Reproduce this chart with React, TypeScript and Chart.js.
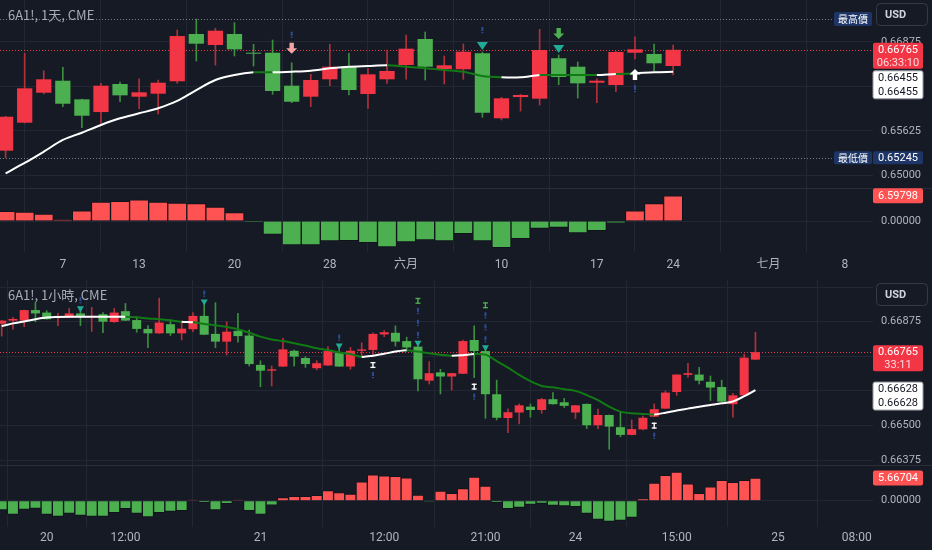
import { useEffect, useRef } from "react";
import { Chart, registerables } from "chart.js";

Chart.register(...registerables);

// ================= 1天 (daily) panel =================
const DAY_OPEN = [0.65345, 0.65739, 0.66161, 0.6633, 0.66068, 0.65889, 0.66284, 0.66105, 0.66147, 0.66322, 0.66988, 0.66833, 0.66988, 0.66724, 0.66724, 0.6626, 0.66105, 0.6635, 0.66537, 0.66143, 0.6635, 0.66551, 0.66917, 0.66495, 0.66491, 0.66716, 0.65801, 0.661, 0.66077, 0.66646, 0.66527, 0.66302, 0.66269, 0.66724, 0.66706, 0.66537];
const DAY_HIGH = [0.6583, 0.66716, 0.66471, 0.66519, 0.6607, 0.66293, 0.66312, 0.66358, 0.6634, 0.67044, 0.67199, 0.67068, 0.67147, 0.66843, 0.66903, 0.66583, 0.6642, 0.66843, 0.66716, 0.66505, 0.66762, 0.66973, 0.67016, 0.66678, 0.66847, 0.66734, 0.66096, 0.66139, 0.67054, 0.66692, 0.66593, 0.66358, 0.66744, 0.66949, 0.66847, 0.66833];
const DAY_LOW = [0.65245, 0.65735, 0.66143, 0.65964, 0.65668, 0.6573, 0.66034, 0.65936, 0.65861, 0.66293, 0.66607, 0.66551, 0.66678, 0.66537, 0.66139, 0.6602, 0.65964, 0.6626, 0.66129, 0.65941, 0.66293, 0.6635, 0.6634, 0.66284, 0.6635, 0.65815, 0.65777, 0.65903, 0.65988, 0.66274, 0.66087, 0.6602, 0.66175, 0.66636, 0.66471, 0.6641];
const DAY_CLOSE = [0.65823, 0.66223, 0.6635, 0.66006, 0.65837, 0.6626, 0.66124, 0.66167, 0.66302, 0.66959, 0.66851, 0.67034, 0.66772, 0.6671, 0.66185, 0.66034, 0.6634, 0.66527, 0.66199, 0.6642, 0.66467, 0.66781, 0.66527, 0.66547, 0.66738, 0.65879, 0.66082, 0.66129, 0.66762, 0.66382, 0.66293, 0.6633, 0.66734, 0.66772, 0.66575, 0.66765];
const DAY_MA = [0.65027, 0.65172, 0.65331, 0.65496, 0.65598, 0.65707, 0.65801, 0.65871, 0.65942, 0.66045, 0.66199, 0.6634, 0.6641, 0.66448, 0.66448, 0.66457, 0.66471, 0.66505, 0.66527, 0.66537, 0.66547, 0.66527, 0.66505, 0.66481, 0.66457, 0.66396, 0.66378, 0.66378, 0.6641, 0.6641, 0.6641, 0.6641, 0.66425, 0.66434, 0.66448, 0.66455];
const DAY_MA_DOWN_SEGMENTS = [13, 20, 21, 22, 23, 24, 25, 28, 29, 30, 32];
const DAY_OSC = [2.53, 2.35, 1.83, 0.34, 2.69, 4.96, 5.14, 5.56, 4.96, 4.7, 4.52, 3.66, 2.17, -0.26, -3.47, -6.27, -6.27, -5.22, -5.14, -5.67, -6.79, -5.48, -4.96, -5.22, -3.32, -5.22, -6.97, -4.62, -1.91, -1.64, -3.13, -2.53, -0.44, 2.69, 4.52, 6.59798];
const DAY_TICK_POS = [3, 7, 12, 17, 21, 26, 31, 35, 40, 44];
const DAY_TICK_LABELS = ["7", "13", "20", "28", "六月", "10", "17", "24", "七月", "8"];
const DAY_PRICE_GRID = [0.66875, 0.6625, 0.65625, 0.65];
const DAY_COUNTDOWN = "06:33:10";
const DAY_SIGNAL_IDX = [25, 29];
const DAY_PINK_ARROW_IDX = [15];
const DAY_GREEN_ARROW_IDX = [29];
const DAY_UP_ARROW_IDX = [33];
const DAY_BANG_ABOVE_IDX = [15, 25];
const DAY_BANG_BELOW_IDX = [33];

// ================= 1小時 (hourly) panel =================
const HOUR_OPEN = [0.66868, 0.66879, 0.66879, 0.66917, 0.66908, 0.66891, 0.6689, 0.66905, 0.66891, 0.66902, 0.66874, 0.66913, 0.66881, 0.66849, 0.66833, 0.66866, 0.66833, 0.66848, 0.66896, 0.66831, 0.66803, 0.66842, 0.66825, 0.66719, 0.66698, 0.66713, 0.6677, 0.66744, 0.66707, 0.66717, 0.66764, 0.66713, 0.6677, 0.66773, 0.66829, 0.66835, 0.66805, 0.66785, 0.66662, 0.66692, 0.66677, 0.66687, 0.66809, 0.66769, 0.66613, 0.66527, 0.66547, 0.66568, 0.66556, 0.66595, 0.66584, 0.66547, 0.66578, 0.66501, 0.66538, 0.66494, 0.66466, 0.66486, 0.66532, 0.66561, 0.66621, 0.66683, 0.66684, 0.66658, 0.66639, 0.66577, 0.66609, 0.66738];
const HOUR_HIGH = [0.66879, 0.66891, 0.66917, 0.66944, 0.66915, 0.66905, 0.66923, 0.6692, 0.66927, 0.66908, 0.66923, 0.66941, 0.66893, 0.66861, 0.6696, 0.66881, 0.66875, 0.66908, 0.66944, 0.66944, 0.66875, 0.66905, 0.66845, 0.66734, 0.66715, 0.66815, 0.66773, 0.66749, 0.66734, 0.66785, 0.66785, 0.66782, 0.66799, 0.66835, 0.66843, 0.6686, 0.66819, 0.66795, 0.66731, 0.66703, 0.66689, 0.66809, 0.6686, 0.66779, 0.66664, 0.6656, 0.66578, 0.66578, 0.66598, 0.66619, 0.66598, 0.66573, 0.66578, 0.66559, 0.66538, 0.66548, 0.6652, 0.66534, 0.66578, 0.66625, 0.66684, 0.66725, 0.6671, 0.66679, 0.66664, 0.66616, 0.66758, 0.66837];
const HOUR_LOW = [0.66823, 0.66848, 0.66857, 0.66875, 0.66884, 0.66861, 0.6689, 0.66861, 0.6684, 0.66835, 0.66872, 0.66879, 0.66837, 0.66781, 0.66833, 0.66825, 0.66809, 0.66839, 0.66828, 0.66781, 0.66755, 0.66801, 0.66715, 0.6664, 0.66643, 0.66713, 0.66715, 0.6671, 0.66701, 0.66717, 0.66713, 0.66703, 0.66746, 0.66751, 0.66821, 0.66787, 0.66769, 0.66625, 0.6665, 0.66614, 0.66628, 0.66687, 0.66673, 0.66526, 0.6652, 0.66474, 0.66506, 0.6653, 0.66544, 0.66577, 0.66565, 0.66525, 0.66489, 0.66489, 0.66414, 0.66459, 0.66466, 0.66484, 0.66532, 0.66561, 0.66609, 0.66674, 0.6665, 0.6659, 0.66586, 0.6653, 0.66609, 0.66738];
const HOUR_CLOSE = [0.66879, 0.66885, 0.66917, 0.66905, 0.66884, 0.66896, 0.66905, 0.66891, 0.66896, 0.66875, 0.66908, 0.66879, 0.66849, 0.66833, 0.66872, 0.66833, 0.6685, 0.66896, 0.66828, 0.66803, 0.66839, 0.66823, 0.66722, 0.66698, 0.66703, 0.66775, 0.66749, 0.66722, 0.66725, 0.66769, 0.66713, 0.6677, 0.66775, 0.66831, 0.66837, 0.66803, 0.66782, 0.66667, 0.66689, 0.66677, 0.66689, 0.66805, 0.66769, 0.66613, 0.66528, 0.66548, 0.66573, 0.66556, 0.66595, 0.66577, 0.66571, 0.66573, 0.66501, 0.66538, 0.66496, 0.66466, 0.66487, 0.66528, 0.66559, 0.66619, 0.66684, 0.66689, 0.66662, 0.66637, 0.66586, 0.66609, 0.66745, 0.66765];
const HOUR_MA = [0.66859, 0.66869, 0.66876, 0.66884, 0.6689, 0.66892, 0.66893, 0.66893, 0.66893, 0.66893, 0.66893, 0.66893, 0.66891, 0.66887, 0.66884, 0.6688, 0.66875, 0.66873, 0.66867, 0.66862, 0.66856, 0.66848, 0.66835, 0.66821, 0.66811, 0.66805, 0.66797, 0.66789, 0.66779, 0.66773, 0.66764, 0.66758, 0.66748, 0.66752, 0.66759, 0.66767, 0.66772, 0.66767, 0.66761, 0.66756, 0.66752, 0.66754, 0.66758, 0.66756, 0.66733, 0.66709, 0.66683, 0.6666, 0.66643, 0.66638, 0.66631, 0.66625, 0.6661, 0.66592, 0.66568, 0.6655, 0.66544, 0.66542, 0.6654, 0.66546, 0.66554, 0.66561, 0.66568, 0.66574, 0.6658, 0.66587, 0.66606, 0.66628];
const HOUR_MA_DOWN_SEGMENTS = [11, 12, 13, 14, 15, 17, 18, 19, 20, 21, 22, 23, 24, 25, 26, 27, 28, 29, 30, 31, 36, 37, 38, 39, 42, 43, 44, 45, 46, 47, 48, 49, 50, 51, 52, 53, 54, 55, 56, 57];
const HOUR_OSC = [-2.33, -3.42, -2.17, -1.92, -3.42, -3.92, -3.17, -3.67, -3.92, -3.92, -3.0, -2.0, -3.17, -4.08, -3.0, -2.67, -2.5, 0.17, -0.42, -2.33, -0.75, 0.17, -2.5, -3.42, -1.12, 0.8, 1.08, 1.08, 1.33, 2.5, 2.0, 1.67, 4.75, 6.5, 6.25, 6.08, 5.75, 1.42, -0.17, 2.42, 1.83, 3.0, 5.92, 3.67, -0.42, -2.0, -1.7, -0.92, -0.67, -1.17, -1.33, -1.5, -3.17, -4.67, -5.17, -4.92, -4.17, 0.42, 4.42, 6.33, 7.17, 4.25, 1.83, 3.5, 5.08, 4.58, 5.08, 5.66704];
const HOUR_TICK_POS = [4, 11, 23, 34, 43, 51, 60, 69, 76];
const HOUR_TICK_LABELS = ["20", "12:00", "21", "12:00", "21:00", "24", "15:00", "25", "08:00"];
const HOUR_PRICE_GRID = [0.67, 0.66875, 0.6675, 0.66625, 0.665, 0.66375];
const HOUR_COUNTDOWN = "33:11";
const HOUR_SIGNAL_IDX = [7, 18, 30, 37, 43];
const HOUR_STACKED_SIGNAL_IDX = [37, 43];
const HOUR_IBEAM_BELOW_IDX = [33, 42, 58];

// ================= style =================
const BG = "#161a25";
const GRID = "#232733";
const TEXT = "#b2b5be";
const UP = "#f23645";
const DN = "#4caf50";
const WICK_UP = "#b0303b";
const WICK_DN = "#3b8f3f";
const OSC_UP = "#ff5252";
const OSC_DN = "#4caf50";
const MA_W = "#ffffff";
const MA_G = "#127a14";
const TEAL = "#22ab94";
const NAVY = "#1e3568";
const BANG = "#2c4c92";
const AXIS_W = 59;
const SANS = 'Roboto, "Noto Sans CJK TC", sans-serif';
const CJK = '"Noto Sans CJK TC", "Noto Sans", sans-serif';

type Spec = {
  title: string;
  width: number;
  height: number;
  axisH: number;
  xPad: number;
  priceW: number;
  oscW: number;
  open: number[];
  high: number[];
  low: number[];
  close: number[];
  ma: number[];
  maDown: number[];
  osc: number[];
  tickPos: number[];
  tickLabels: string[];
  priceGrid: number[];
  labelMax: number;
  countdown: string;
  xMin: number;
  xMax: number;
  yMin: number;
  yMax: number;
  oMin: number;
  oMax: number;
  extremes: boolean;
  small: boolean;
  signals: number[];
  stacked: number[];
  pinkArrows: number[];
  greenArrows: number[];
  upArrows: number[];
  bangAbove: number[];
  bangBelow: number[];
  ibeams: number[];
};

const DAY_SPEC: Spec = {
  title: "6A1!, 1天, CME",
  width: 932,
  height: 280,
  axisH: 28,
  xPad: 6,
  priceW: 188,
  oscW: 64,
  open: DAY_OPEN,
  high: DAY_HIGH,
  low: DAY_LOW,
  close: DAY_CLOSE,
  ma: DAY_MA,
  maDown: DAY_MA_DOWN_SEGMENTS,
  osc: DAY_OSC,
  tickPos: DAY_TICK_POS,
  tickLabels: DAY_TICK_LABELS,
  priceGrid: DAY_PRICE_GRID,
  labelMax: 1,
  countdown: DAY_COUNTDOWN,
  xMin: -0.294,
  xMax: 45.48,
  yMin: 0.648198,
  yMax: 0.674662,
  oMin: -8.09,
  oMax: 8.62,
  extremes: true,
  small: false,
  signals: DAY_SIGNAL_IDX,
  stacked: [],
  pinkArrows: DAY_PINK_ARROW_IDX,
  greenArrows: DAY_GREEN_ARROW_IDX,
  upArrows: DAY_UP_ARROW_IDX,
  bangAbove: DAY_BANG_ABOVE_IDX,
  bangBelow: DAY_BANG_BELOW_IDX,
  ibeams: [],
};

const HOUR_SPEC: Spec = {
  title: "6A1!, 1小時, CME",
  width: 932,
  height: 270,
  axisH: 23,
  xPad: 4,
  priceW: 185,
  oscW: 62,
  open: HOUR_OPEN,
  high: HOUR_HIGH,
  low: HOUR_LOW,
  close: HOUR_CLOSE,
  ma: HOUR_MA,
  maDown: HOUR_MA_DOWN_SEGMENTS,
  osc: HOUR_OSC,
  tickPos: HOUR_TICK_POS,
  tickLabels: HOUR_TICK_LABELS,
  priceGrid: HOUR_PRICE_GRID,
  labelMax: 0.6695,
  countdown: HOUR_COUNTDOWN,
  xMin: -0.151,
  xMax: 77.45,
  yMin: 0.663573,
  yMax: 0.670257,
  oMin: -6.58,
  oMax: 8.93,
  extremes: false,
  small: true,
  signals: HOUR_SIGNAL_IDX,
  stacked: HOUR_STACKED_SIGNAL_IDX,
  pinkArrows: [],
  greenArrows: [],
  upArrows: [],
  bangAbove: HOUR_SIGNAL_IDX,
  bangBelow: HOUR_IBEAM_BELOW_IDX,
  ibeams: HOUR_IBEAM_BELOW_IDX,
};

function rr(ctx: CanvasRenderingContext2D, x: number, y: number, w: number, h: number, r: number) {
  ctx.beginPath();
  ctx.moveTo(x + r, y);
  ctx.lineTo(x + w - r, y);
  ctx.quadraticCurveTo(x + w, y, x + w, y + r);
  ctx.lineTo(x + w, y + h - r);
  ctx.quadraticCurveTo(x + w, y + h, x + w - r, y + h);
  ctx.lineTo(x + r, y + h);
  ctx.quadraticCurveTo(x, y + h, x, y + h - r);
  ctx.lineTo(x, y + r);
  ctx.quadraticCurveTo(x, y, x + r, y);
  ctx.closePath();
}

function triDown(ctx: CanvasRenderingContext2D, x: number, tip: number, w: number, h: number, c: string) {
  ctx.beginPath();
  ctx.moveTo(x - w / 2, tip - h);
  ctx.lineTo(x + w / 2, tip - h);
  ctx.lineTo(x, tip);
  ctx.closePath();
  ctx.fillStyle = c;
  ctx.fill();
}

function arrow(ctx: CanvasRenderingContext2D, x: number, tip: number, dir: number, w: number, h: number, c: string) {
  const head = h * 0.5;
  ctx.beginPath();
  ctx.moveTo(x, tip);
  ctx.lineTo(x - w / 2, tip - dir * head);
  ctx.lineTo(x - w * 0.2, tip - dir * head);
  ctx.lineTo(x - w * 0.2, tip - dir * h);
  ctx.lineTo(x + w * 0.2, tip - dir * h);
  ctx.lineTo(x + w * 0.2, tip - dir * head);
  ctx.lineTo(x + w / 2, tip - dir * head);
  ctx.closePath();
  ctx.fillStyle = c;
  ctx.fill();
}

function bang(ctx: CanvasRenderingContext2D, x: number, top: number, h: number) {
  ctx.fillStyle = BANG;
  ctx.fillRect(x - 1, top, 2, h - 2);
  ctx.fillRect(x - 1, top + h - 1, 2, 1.2);
}

function ibeam(ctx: CanvasRenderingContext2D, x: number, top: number, h: number, c: string) {
  ctx.fillStyle = c;
  ctx.fillRect(x - 2.5, top, 5, 1.3);
  ctx.fillRect(x - 0.7, top, 1.4, h);
  ctx.fillRect(x - 2.5, top + h - 1.3, 5, 1.3);
}

function tag(
  ctx: CanvasRenderingContext2D,
  x: number,
  top: number,
  w: number,
  h: number,
  bg: string,
  lines: string[],
  colors: string[],
  font: string,
  border?: string
) {
  rr(ctx, x, top, w, h, 2);
  ctx.fillStyle = bg;
  ctx.fill();
  if (border) {
    ctx.strokeStyle = border;
    ctx.lineWidth = 1;
    ctx.stroke();
  }
  ctx.font = font;
  ctx.textAlign = "center";
  ctx.textBaseline = "middle";
  const step = h / lines.length;
  lines.forEach((t, k) => {
    ctx.fillStyle = colors[k] || colors[0];
    ctx.fillText(t, x + w / 2, top + step * (k + 0.5) + 0.5);
  });
}

function overlay(s: Spec) {
  return {
    id: "overlay",
    beforeDatasetsDraw(chart: any) {
      const { ctx, chartArea } = chart;
      const y = chart.scales.y;
      ctx.save();
      ctx.beginPath();
      ctx.rect(chartArea.left, y.top, chartArea.right - chartArea.left, y.bottom - y.top);
      ctx.clip();
      ctx.lineWidth = 1;
      ctx.setLineDash([1, 2]);
      const last = s.close[s.close.length - 1];
      const py = Math.round(y.getPixelForValue(last)) + 0.5;
      ctx.strokeStyle = UP;
      ctx.beginPath();
      ctx.moveTo(chartArea.left, py);
      ctx.lineTo(chartArea.right, py);
      ctx.stroke();
      if (s.extremes) {
        ctx.strokeStyle = "#7a7e8a";
        [Math.max(...s.high), Math.min(...s.low)].forEach((v) => {
          const p = Math.round(y.getPixelForValue(v)) + 0.5;
          ctx.beginPath();
          ctx.moveTo(chartArea.left, p);
          ctx.lineTo(chartArea.right, p);
          ctx.stroke();
        });
      }
      ctx.restore();
    },
    afterDraw(chart: any) {
      const { ctx, chartArea, width } = chart;
      const xs = chart.scales.x;
      const y = chart.scales.y;
      const yh = chart.scales.yh;
      const X = (i: number) => xs.getPixelForValue(i);
      const HI = (i: number) => y.getPixelForValue(s.high[i]);
      const LO = (i: number) => y.getPixelForValue(s.low[i]);
      ctx.save();

      // pane separator
      ctx.strokeStyle = "#2a2e39";
      ctx.lineWidth = 1;
      ctx.beginPath();
      ctx.moveTo(0, Math.round(y.bottom) + 0.5);
      ctx.lineTo(width, Math.round(y.bottom) + 0.5);
      ctx.stroke();

      // markers
      ctx.save();
      ctx.beginPath();
      ctx.rect(chartArea.left, y.top, chartArea.right - chartArea.left, y.bottom - y.top);
      ctx.clip();
      if (!s.small) {
        s.signals.forEach((i) => triDown(ctx, X(i), HI(i) - 2, 11, 8, TEAL));
        s.pinkArrows.forEach((i) => {
          const base = s.signals.includes(i) ? HI(i) - 14 : HI(i) - 9;
          arrow(ctx, X(i), base, 1, 11, 11, "#f4a3a3");
        });
        s.greenArrows.forEach((i) => {
          const base = s.signals.includes(i) ? HI(i) - 16 : HI(i) - 9;
          arrow(ctx, X(i), base, 1, 11, 11, DN);
        });
        s.upArrows.forEach((i) => arrow(ctx, X(i), LO(i) + 10, -1, 11, 11, "#ffffff"));
        s.bangAbove.forEach((i) => {
          const top = s.pinkArrows.includes(i) || s.greenArrows.includes(i) ? HI(i) - 31 : HI(i) - 25;
          bang(ctx, X(i), top, 6);
        });
        s.bangBelow.forEach((i) => bang(ctx, X(i), LO(i) + 26, 7));
      } else {
        s.signals.forEach((i) => {
          triDown(ctx, X(i), HI(i) + 3, 7, 6, TEAL);
          bang(ctx, X(i), HI(i) - 12, 6);
          if (s.stacked.includes(i)) {
            bang(ctx, X(i), HI(i) - 24, 6);
            bang(ctx, X(i), HI(i) - 36, 6);
            ibeam(ctx, X(i), HI(i) - 46, 6, DN);
          }
        });
        s.ibeams.forEach((i) => {
          ibeam(ctx, X(i), LO(i) + 6, 6, "#ffffff");
          bang(ctx, X(i), LO(i) + 16, 6);
        });
      }
      ctx.restore();

      const tx = chartArea.right;
      const tw = 50;
      const f11 = "11px " + SANS;

      // extremes tags
      if (s.extremes) {
        const hv = Math.max(...s.high);
        const lv = Math.min(...s.low);
        const hp = y.getPixelForValue(hv);
        const lp = y.getPixelForValue(lv);
        tag(ctx, tx - 39, hp - 7, 38, 14, NAVY, ["最高價"], ["#ffffff"], "10px " + CJK);
        tag(ctx, tx - 39, lp - 6.5, 38, 13, NAVY, ["最低價"], ["#ffffff"], "10px " + CJK);
        tag(ctx, tx, lp - 6.5, tw, 13, NAVY, [lv.toFixed(5)], ["#ffffff"], f11);
      }

      // price + MA tags
      const last = s.close[s.close.length - 1];
      const pp = y.getPixelForValue(last);
      const redTop = pp - 7;
      const redH = 26;
      tag(ctx, tx, redTop, tw, redH, UP, [last.toFixed(5), s.countdown], ["#ffffff", "rgba(255,255,255,0.82)"], f11);
      const mv = s.ma[s.ma.length - 1];
      const mp = y.getPixelForValue(mv);
      const wTop = Math.max(mp - 8, redTop + redH + 2);
      tag(ctx, tx, wTop, tw, 28, "#ffffff", [mv.toFixed(5), mv.toFixed(5)], ["#131722"], f11, "#9598a1");

      // oscillator tag
      const ov = s.osc[s.osc.length - 1];
      const op = yh.getPixelForValue(ov);
      tag(ctx, tx, op - 7.5, tw, 15, ov >= 0 ? OSC_UP : OSC_DN, [ov.toFixed(5)], ["#ffffff"], f11);

      // title
      ctx.font = "13px " + CJK;
      ctx.fillStyle = "#a9acb5";
      ctx.textAlign = "left";
      ctx.textBaseline = "middle";
      ctx.fillText(s.title, 8, 15);

      // USD button
      rr(ctx, width - 55.5, 3.5, 51, 22, 4);
      ctx.fillStyle = BG;
      ctx.fill();
      ctx.strokeStyle = "#363a45";
      ctx.lineWidth = 1;
      ctx.stroke();
      ctx.font = "bold 11px " + SANS;
      ctx.fillStyle = "#d1d4dc";
      ctx.textAlign = "left";
      ctx.fillText("USD", width - 47, 15);

      ctx.restore();
    },
  };
}

function buildChart(canvas: HTMLCanvasElement, s: Spec) {
  const n = s.open.length;
  const idx = Array.from({ length: n }, (_, i) => i);
  const rising = idx.map((i) => s.close[i] >= s.open[i]);
  const zeroPad = (ax: any) => {
    ax.paddingTop = 0;
    ax.paddingBottom = 0;
    ax.paddingLeft = 0;
    ax.paddingRight = 0;
  };
  return new Chart(canvas, {
    type: "bar",
    data: {
      datasets: [
        {
          type: "bar",
          data: idx.map((i) => ({ x: i, y: [s.low[i], s.high[i]] })),
          backgroundColor: idx.map((i) => (rising[i] ? WICK_UP : WICK_DN)),
          barThickness: 1,
          grouped: false,
          yAxisID: "y",
          order: 4,
          minBarLength: 1,
        } as any,
        {
          type: "bar",
          data: idx.map((i) => ({ x: i, y: [s.open[i], s.close[i]] })),
          backgroundColor: idx.map((i) => (rising[i] ? UP : DN)),
          barPercentage: 0.8,
          categoryPercentage: 1,
          grouped: false,
          yAxisID: "y",
          order: 3,
          minBarLength: 1,
        } as any,
        {
          type: "line",
          data: idx.map((i) => ({ x: i, y: s.ma[i] })),
          borderColor: MA_W,
          borderWidth: 2,
          pointRadius: 0,
          tension: 0.3,
          yAxisID: "y",
          order: 2,
          segment: {
            borderColor: (c: any) => (s.maDown.includes(c.p0DataIndex) ? MA_G : MA_W),
          },
        } as any,
        {
          type: "bar",
          data: idx.map((i) => ({ x: i, y: s.osc[i] })),
          backgroundColor: idx.map((i) => (s.osc[i] >= 0 ? OSC_UP : OSC_DN)),
          borderColor: "rgba(12,14,20,0.55)",
          borderWidth: 1,
          barPercentage: 1,
          categoryPercentage: 1,
          grouped: false,
          yAxisID: "yh",
          order: 5,
        } as any,
      ],
    },
    options: {
      responsive: false,
      animation: false,
      events: [],
      layout: { padding: 0 },
      plugins: { legend: { display: false }, tooltip: { enabled: false } },
      scales: {
        x: {
          type: "linear",
          min: s.xMin,
          max: s.xMax,
          offset: false,
          grid: { color: GRID, drawTicks: false },
          border: { display: false },
          afterBuildTicks: (ax: any) => {
            ax.ticks = s.tickPos.map((v) => ({ value: v }));
          },
          afterFit: (ax: any) => {
            zeroPad(ax);
            ax.height = s.axisH;
          },
          ticks: {
            autoSkip: false,
            maxRotation: 0,
            padding: s.xPad,
            color: TEXT,
            font: { size: 12, family: SANS },
            callback: (_v: any, i: number) => s.tickLabels[i],
          },
        },
        y: {
          type: "linear",
          position: "right",
          stack: "pane",
          stackWeight: s.priceW,
          min: s.yMin,
          max: s.yMax,
          grid: { color: GRID, drawTicks: false },
          border: { display: false },
          afterBuildTicks: (ax: any) => {
            ax.ticks = s.priceGrid.map((v) => ({ value: v }));
          },
          afterFit: (ax: any) => {
            zeroPad(ax);
            ax.width = AXIS_W;
          },
          ticks: {
            padding: 8,
            color: TEXT,
            font: { size: 11, family: SANS },
            callback: (v: any) => (Number(v) > s.labelMax ? "" : Number(v).toFixed(5)),
          },
        },
        yh: {
          type: "linear",
          position: "right",
          stack: "pane",
          stackWeight: s.oscW,
          min: s.oMin,
          max: s.oMax,
          grid: { color: GRID, drawTicks: false },
          border: { display: false },
          afterBuildTicks: (ax: any) => {
            ax.ticks = [{ value: 0 }];
          },
          afterFit: (ax: any) => {
            zeroPad(ax);
            ax.width = AXIS_W;
          },
          ticks: {
            padding: 8,
            color: TEXT,
            font: { size: 11, family: SANS },
            callback: (v: any) => Number(v).toFixed(5),
          },
        },
      },
    } as any,
    plugins: [overlay(s)],
  });
}

function Panel({ spec }: { spec: Spec }) {
  const ref = useRef<HTMLCanvasElement | null>(null);
  useEffect(() => {
    if (!ref.current) return;
    const c = buildChart(ref.current, spec);
    return () => c.destroy();
  }, [spec]);
  return (
    <canvas
      ref={ref}
      width={spec.width}
      height={spec.height}
      style={{ display: "block", width: spec.width, height: spec.height }}
    />
  );
}

export default function App() {
  return (
    <div
      style={{
        position: "absolute",
        left: 0,
        top: 0,
        width: 932,
        height: 550,
        background: BG,
        overflow: "hidden",
      }}
    >
      <Panel spec={DAY_SPEC} />
      <Panel spec={HOUR_SPEC} />
    </div>
  );
}
